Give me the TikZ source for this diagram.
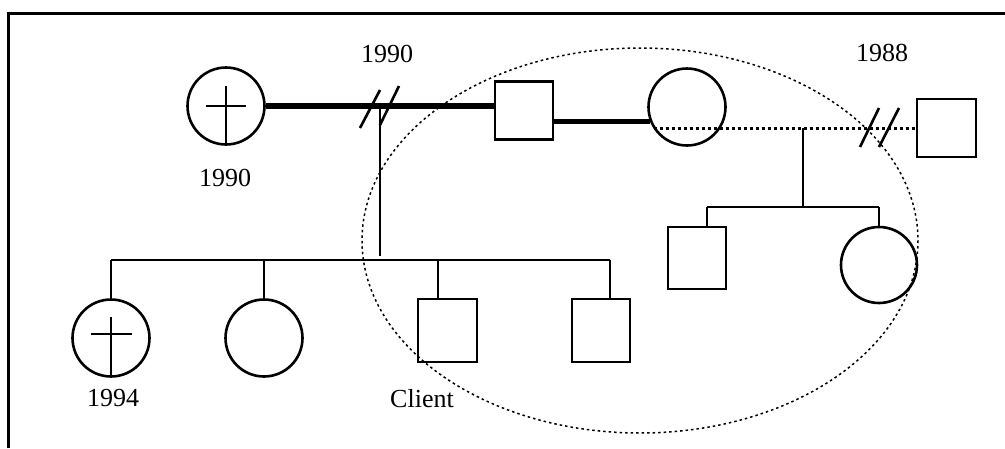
\documentclass[tikz,border=0pt]{standalone}
\usepackage{fontspec}
\setmainfont{Liberation Serif}
\begin{document}
\begin{tikzpicture}[x=1pt,y=-1pt,
  line width=2.6pt,
  female/.style={circle,draw,line width=2.6pt,minimum size=77pt,inner sep=0pt},
  male/.style={rectangle,draw,line width=2.6pt,minimum width=58pt,minimum height=58pt,inner sep=0pt},
  lbl/.style={font=\fontsize{26}{30}\selectfont,inner sep=0pt},
  marriage/.style={line width=5.5pt},
  partner/.style={line width=2.6pt,dash pattern=on 3pt off 3pt},
  divorce/.style={line width=2.6pt},
  household/.style={line width=1.5pt,dash pattern=on 2.5pt off 3pt}]
\useasboundingbox (0,0) rectangle (1005,448);

% frame
\draw[line width=3pt] (8,448) -- (8,13) -- (1005,13);

% household circle
\draw[household] (640,240.5) ellipse [x radius=278, y radius=192.5];

% parents' generation
\node[female] (gm) at (226,106) {};
\node[male]   (gf) at (524,110.5) {};
\node[female] (gw) at (687,107) {};
\node[male,minimum height=58pt,minimum width=59pt] (ex) at (946.5,128) {};

% crosses
\draw (gm.center) ++(-20,0) -- ++(40,0);
\draw (gm.center) ++(0,-20) -- (gm.south);

% partnerships
\draw[marriage] (gm.east) -- (gm.east -| gf.west);
\draw[marriage] (gf.east |- gw.201) -- (gw.201);
\draw[partner] (gw.213) -- (gw.213 -| ex.west);

% divorce marks
\draw[divorce] (360,128) -- (380,90);
\draw[divorce] (380,125) -- (399,86);
\draw[divorce] (860,147) -- (879,108);
\draw[divorce] (879,147) -- (899,108);

% dates
\node[lbl] (t1) at (387,54) {1990};
\node[lbl] (t2) at (225,178) {1990};
\node[lbl] (t3) at (882,53) {1988};

% children of the first marriage
\coordinate (j1) at (380,106);
\coordinate (sl) at (111,260);
\coordinate (sr) at (610,260);
\node[female] (c1) at (111,338) {};
\node[female] (c2) at (264,338) {};
\node[male,minimum width=59pt,minimum height=63pt] (c3) at (447.5,330.5) {};
\node[male,minimum width=58pt,minimum height=63pt] (c4) at (601,330.5) {};
\coordinate (k3) at (438,260);
\coordinate (k4) at (610,260);

\draw (j1) -- (380,256);
\draw (sl) -- (sr);
\draw (sl) -- (c1.north);
\draw (c2.north |- sl) -- (c2.north);
\draw (k3) -- (k3 |- c3.north);
\draw (k4) -- (k4 |- c4.north);

\draw (c1.center) ++(-20,-4) -- ++(41,0);
\draw (c1.center) ++(0,-21) -- (c1.south);

\node[lbl] (t4) at (113,398) {1994};
\node[lbl] (t5) at (422,399) {Client};

% children of the second partnership
\coordinate (j2) at (803,128);
\coordinate (rl) at (707,207);
\coordinate (rr) at (879,207);
\node[male,minimum width=58pt,minimum height=62pt] (c5) at (697,258) {};
\node[female,minimum size=76pt] (c6) at (879,265) {};

\draw (j2) -- (803,207);
\draw (rl) -- (rr);
\draw (rl) -- (rl |- c5.north);
\draw (rr) -- (c6.north);
\end{tikzpicture}
\end{document}
